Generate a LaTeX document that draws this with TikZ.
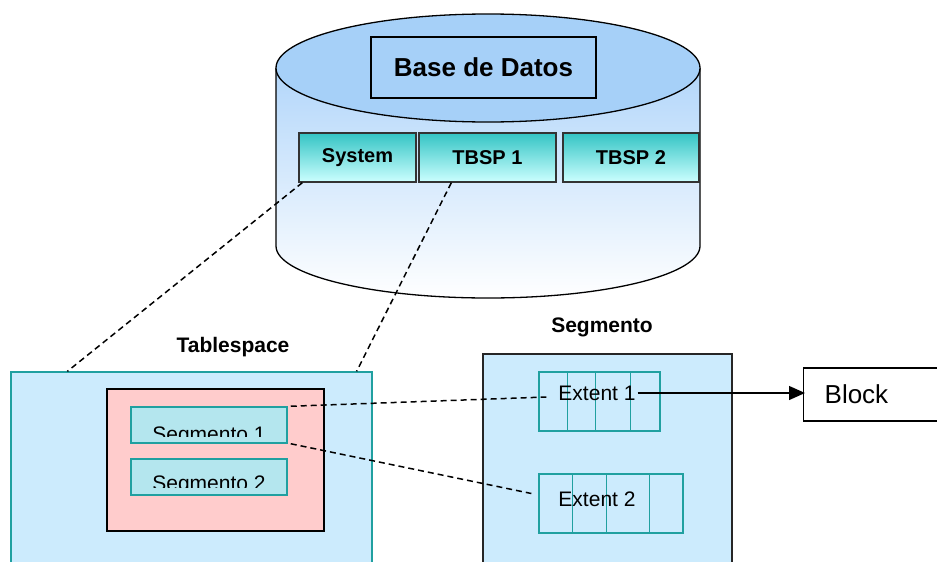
\documentclass[tikz,border=0pt]{standalone}
\usepackage{fontspec}
\setmainfont{Liberation Sans}
\usetikzlibrary{arrows.meta}
\usetikzlibrary{calc}
\definecolor{topblue}{RGB}{166,208,248}
\definecolor{cylblue}{RGB}{178,214,250}
\definecolor{panelblue}{RGB}{204,235,253}
\definecolor{tealline}{RGB}{32,160,160}
\definecolor{tealtop}{RGB}{52,196,196}
\definecolor{tealbot}{RGB}{204,255,255}
\definecolor{segfill}{RGB}{180,230,238}
\definecolor{pinkfill}{RGB}{255,204,204}
\tikzset{
  dbbox/.style = {draw, line width=1.3pt, minimum width=225pt, minimum height=61pt, font=\fontsize{26}{30}\selectfont\bfseries},
  tbspbox/.style = {draw=black!80, line width=1.3pt, top color=tealtop, bottom color=tealbot, minimum height=49pt, font=\fontsize{20}{24}\selectfont\bfseries},
  panel/.style = {fill=panelblue, line width=1.3pt},
  pinkbox/.style = {draw, fill=pinkfill, line width=1.3pt, minimum width=217pt, minimum height=142pt},
  segbox/.style = {draw=tealline, fill=segfill, line width=1.5pt, minimum width=156pt, minimum height=36pt},
  segtext/.style = {inner sep=0, font=\fontsize{21}{25}\selectfont},
  extbox/.style = {draw=tealline, line width=1.3pt, minimum height=59pt},
  exttext/.style = {inner sep=0, font=\fontsize{21}{25}\selectfont},
  headlbl/.style = {font=\fontsize{21}{25}\selectfont\bfseries},
  blockbox/.style = {draw, line width=1.3pt, fill=white, anchor=west, minimum height=53pt, text width=115pt, inner xsep=21pt, align=left, font=\fontsize{26}{30}\selectfont},
  dashline/.style = {line width=1.5pt, dash pattern=on 6pt off 4pt}
}
\begin{document}
\begin{tikzpicture}[x=1pt, y=-1pt]
\useasboundingbox (0,0) rectangle (937,562);
\clip (0,0) rectangle (937,562);

% database cylinder
\shade[top color=cylblue, bottom color=white] (276,68) -- (276,246) arc[start angle=180, end angle=0, x radius=212, y radius=52] -- (700,68) -- cycle;
\draw[line width=1.3pt] (276,68) -- (276,246) arc[start angle=180, end angle=0, x radius=212, y radius=52] -- (700,68);
\filldraw[fill=topblue, line width=1.3pt] (488,68) ellipse [x radius=212, y radius=54];
\node[dbbox] (db) at (483.5,67.5) {Base de Datos};
\node[tbspbox, minimum width=117pt] (system) at (357.5,157.5) {System};
\node[tbspbox, minimum width=137pt] (tbsp1) at (487.5,157.5) {TBSP 1};
\node[tbspbox, minimum width=136pt] (tbsp2) at (631,157.5) {TBSP 2};

% tablespace
\node[headlbl] (tslbl) at (233,347) {Tablespace};
\node[panel, draw=tealline, minimum width=361pt, minimum height=228pt] (tsp) at (191.5,486) {};
\node[pinkbox] (pink) at (215.5,460) {};
\node[segbox] (seg1) at (209,425) {};
\node[segbox] (seg2) at (209,477) {};
\begin{scope}
\clip (seg1.north west) rectangle ([yshift=7pt]seg1.south east);
\node[segtext, anchor=base] (seg1txt) at (209,441) {Segmento 1};
\end{scope}
\begin{scope}
\clip (seg2.north west) rectangle ([yshift=8pt]seg2.south east);
\node[segtext, anchor=base] (seg2txt) at (209,490) {Segmento 2};
\end{scope}

% segmento
\node[headlbl] (seglbl) at (602,327) {Segmento};
\node[panel, draw=black!85, minimum width=249pt, minimum height=246pt] (segp) at (607.5,477) {};
\node[extbox, minimum width=121pt] (ext1) at (599.5,401.5) {};
\foreach \d in {29,57,92}
  \draw[tealline, line width=1.3pt] ([xshift=\d pt]ext1.north west) -- ([xshift=\d pt]ext1.south west);
\node[exttext] (ext1txt) at (597,393) {Extent 1};
\node[extbox, minimum width=144pt] (ext2) at (611,503.5) {};
\foreach \d in {34,68,111}
  \draw[tealline, line width=1.3pt] ([xshift=\d pt]ext2.north west) -- ([xshift=\d pt]ext2.south west);
\node[exttext] (ext2txt) at (597,499.5) {Extent 2};

\node[blockbox] (block) at (803,394.5) {Block};

% connectors
\draw[dashline] ([xshift=4pt]system.south west) -- ([xshift=57pt]tsp.north west);
\draw[dashline] ([xshift=33pt]tbsp1.south west) -- ([xshift=-16pt]tsp.north east);
\draw[dashline] ([xshift=3pt]seg1.north east) -- ([xshift=-12pt, yshift=-4pt]ext1txt.west);
\draw[dashline] ([xshift=3pt]seg1.south east) -- ([xshift=-7pt, yshift=10pt]ext2.west);
\draw[line width=1.3pt, -{Triangle[length=16pt, width=14pt]}] ([xshift=2pt]ext1txt.east) -- ([xshift=2pt]ext1txt.east -| block.west);
\end{tikzpicture}
\end{document}
